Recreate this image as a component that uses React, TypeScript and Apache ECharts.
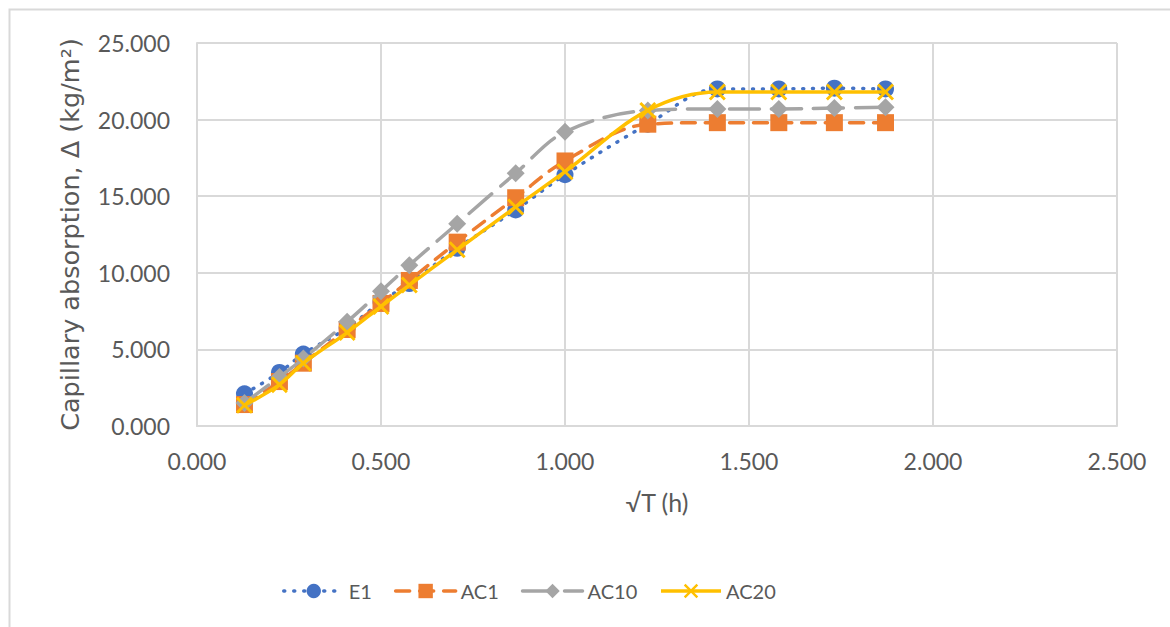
import React, { useEffect, useRef } from "react";
import * as echarts from "echarts";

const xValues = [0.129, 0.224, 0.289, 0.408, 0.5, 0.577, 0.707, 0.866, 1.0, 1.225, 1.414, 1.581, 1.732, 1.871];
const seriesNames = ["E1", "AC1", "AC10", "AC20"];
const e1 = [2.1, 3.5, 4.7, 6.4, 8.1, 9.3, 11.6, 14.1, 16.4, 19.7, 22.0, 22.0, 22.05, 22.0];
const ac1 = [1.4, 2.9, 4.1, 6.3, 8.0, 9.5, 12.0, 14.9, 17.3, 19.7, 19.8, 19.8, 19.8, 19.8];
const ac10 = [1.5, 3.2, 4.4, 6.8, 8.8, 10.5, 13.2, 16.5, 19.2, 20.6, 20.7, 20.7, 20.75, 20.8];
const ac20 = [1.35, 2.7, 4.1, 6.1, 7.8, 9.2, 11.5, 14.3, 16.6, 20.6, 21.8, 21.8, 21.8, 21.8];

const xName = "√T (h)";
const yName = "Capillary absorption, Δ (kg/m²)";

const FONT = "Lato";
const TXT = "#595959";
const GRID = "#d9d9d9";
const X_SYMBOL = "path://M0,1.2L1.2,0L5,3.8L8.8,0L10,1.2L6.2,5L10,8.8L8.8,10L5,6.2L1.2,10L0,8.8L3.8,5Z";

function pairs(ys: number[]) {
  return xValues.map((x, i) => [x, ys[i]]);
}

export default function App() {
  const ref = useRef<HTMLDivElement>(null);
  useEffect(() => {
    if (!ref.current) return;
    const chart = echarts.init(ref.current, undefined, { renderer: "svg" });
    const fmt = (v: number) => v.toFixed(3);
    chart.setOption({
      animation: false,
      backgroundColor: "#ffffff",
      textStyle: { fontFamily: FONT },
      graphic: [
        {
          type: "rect",
          shape: { x: 9.5, y: 9.5, width: 1300, height: 800 },
          style: { fill: "none", stroke: GRID, lineWidth: 2 },
          silent: true,
          z: -1,
        },
      ],
      grid: { left: 197, right: 53, top: 43, bottom: 201, containLabel: false },
      legend: {
        left: 277,
        top: 576,
        itemWidth: 60,
        itemHeight: 18,
        itemGap: 22,
        lineStyle: { width: 3.5 },
        textStyle: { color: TXT, fontSize: 20, fontFamily: FONT },
        data: seriesNames,
      },
      xAxis: {
        type: "value",
        min: 0,
        max: 2.5,
        interval: 0.5,
        name: xName,
        nameLocation: "middle",
        nameGap: 63,
        nameTextStyle: { color: TXT, fontSize: 25, fontFamily: FONT },
        axisLine: { show: true, lineStyle: { color: GRID, width: 2 } },
        axisTick: { show: false },
        axisLabel: { color: TXT, fontSize: 23, margin: 23, formatter: fmt, fontFamily: FONT },
        splitLine: { show: true, lineStyle: { color: GRID, width: 2 } },
      },
      yAxis: {
        type: "value",
        min: 0,
        max: 25,
        interval: 5,
        name: yName,
        nameLocation: "middle",
        nameGap: 114,
        nameTextStyle: { color: TXT, fontSize: 25.5, fontFamily: "DejaVu Sans" },
        axisLine: { show: true, lineStyle: { color: GRID, width: 2 } },
        axisTick: { show: false },
        axisLabel: { color: TXT, fontSize: 23, margin: 27, formatter: fmt, fontFamily: FONT },
        splitLine: { show: true, lineStyle: { color: GRID, width: 2 } },
      },
      series: [
        {
          name: "E1",
          type: "line",
          data: pairs(e1),
          smooth: 0.35,
          symbol: "circle",
          symbolSize: 17,
          itemStyle: { color: "#4472C4" },
          lineStyle: { color: "#4472C4", width: 3.5, type: [1, 9], cap: "round" },
          z: 2,
        },
        {
          name: "AC1",
          type: "line",
          data: pairs(ac1),
          smooth: 0.35,
          symbol: "rect",
          symbolSize: 17,
          itemStyle: { color: "#ED7D31" },
          lineStyle: { color: "#ED7D31", width: 3.5, type: [14, 10], cap: "round" },
          z: 3,
        },
        {
          name: "AC10",
          type: "line",
          data: pairs(ac10),
          smooth: 0.35,
          symbol: "diamond",
          symbolSize: 18,
          itemStyle: { color: "#A5A5A5" },
          lineStyle: { color: "#A5A5A5", width: 3.5, type: [30, 12], cap: "round" },
          z: 4,
        },
        {
          name: "AC20",
          type: "line",
          data: pairs(ac20),
          smooth: 0.35,
          symbol: X_SYMBOL,
          symbolSize: 17,
          itemStyle: { color: "#FFC000" },
          lineStyle: { color: "#FFC000", width: 3.5, type: "solid" },
          z: 5,
        },
      ],
    });
    return () => chart.dispose();
  }, []);
  return (
    <div
      ref={ref}
      style={{ position: "fixed", left: 0, top: 0, width: 1170, height: 627, background: "#fff" }}
    />
  );
}
